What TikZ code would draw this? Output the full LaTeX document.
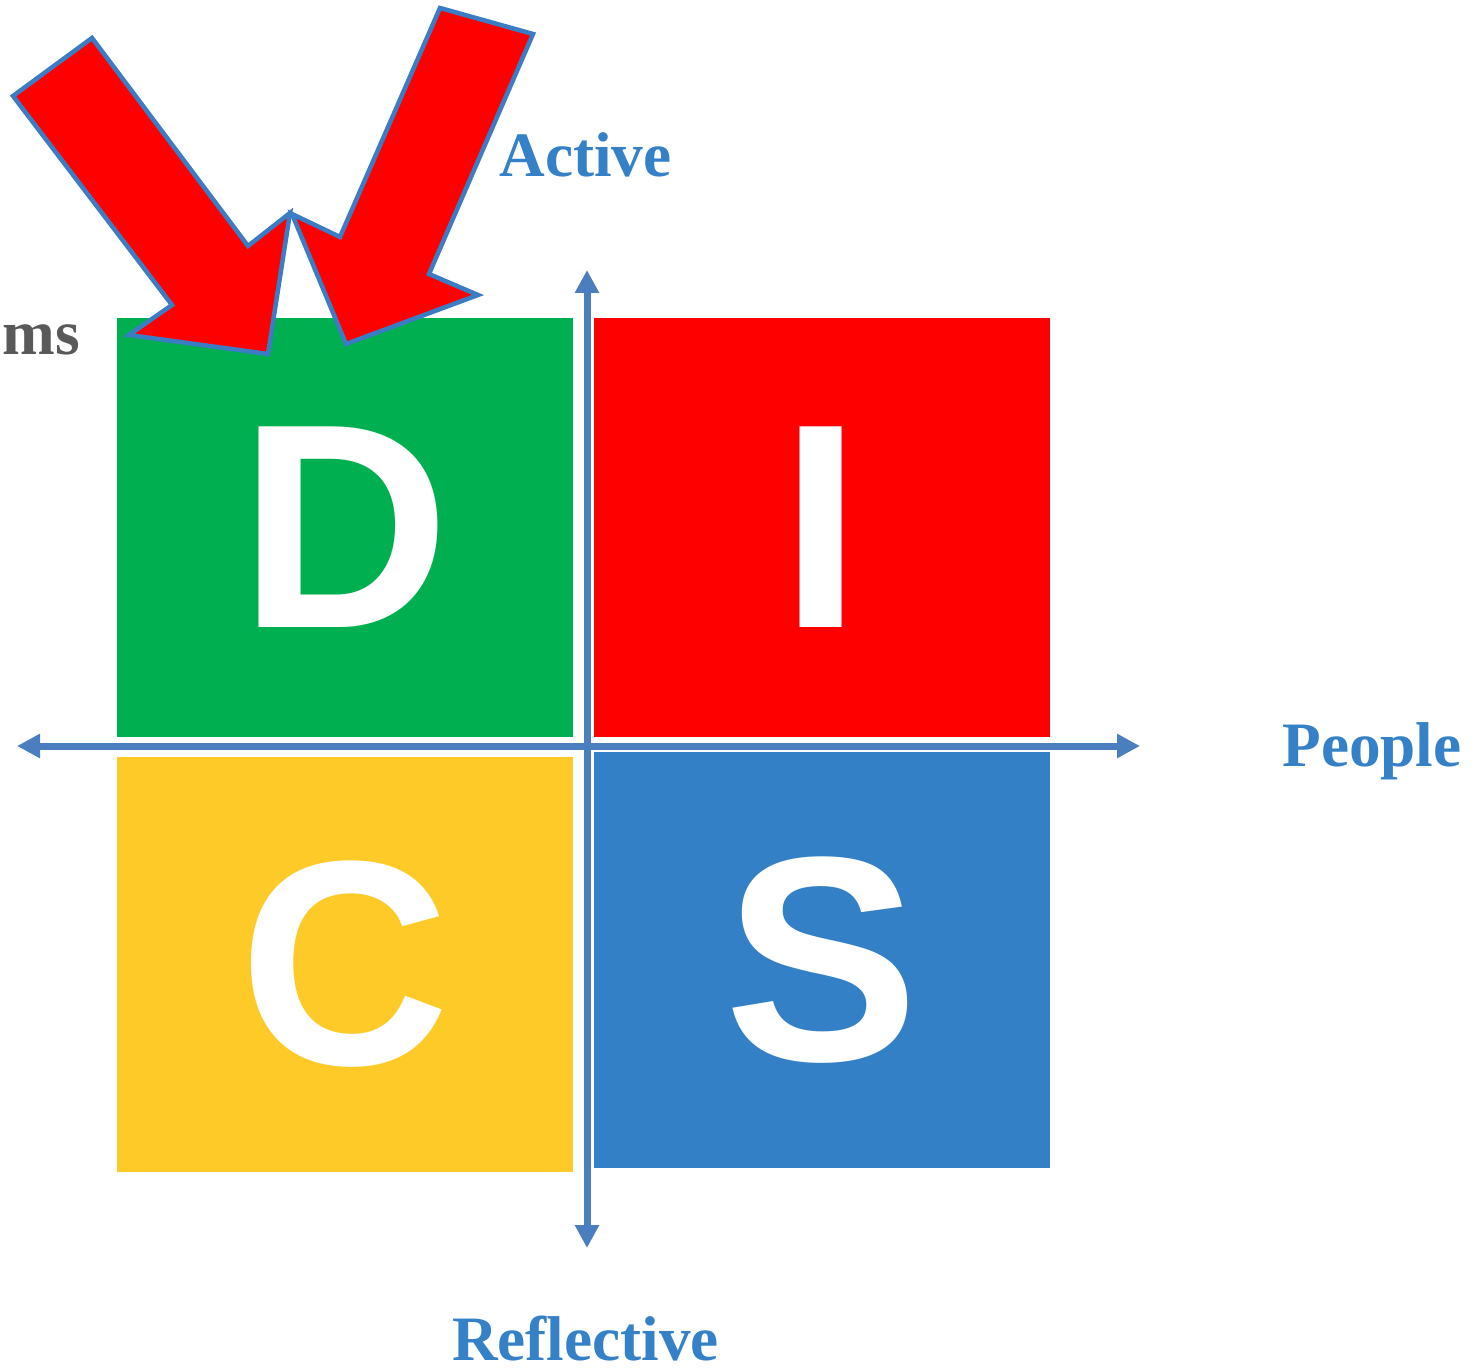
\documentclass[tikz,border=0pt]{standalone}
\usepackage{fontspec}
\setmainfont{Liberation Serif}
\newfontfamily\discfont{Liberation Sans}
\usetikzlibrary{arrows.meta}

\definecolor{dgreen}{RGB}{0,176,80}
\definecolor{dred}{RGB}{255,0,0}
\definecolor{dyellow}{RGB}{254,202,39}
\definecolor{dblue}{RGB}{52,128,198}
\definecolor{axisblue}{RGB}{74,126,191}
\definecolor{labelblue}{RGB}{52,129,199}
\definecolor{outlineblue}{RGB}{58,125,196}
\definecolor{msgrey}{RGB}{89,89,89}

\tikzset{
  quad/.style={inner sep=0pt, minimum width=4.56cm, text=white,
    font=\discfont\bfseries\fontsize{83}{83}\selectfont},
  axisline/.style={axisblue, line width=0.07cm,
    {Triangle[length=0.23cm,width=0.23cm]}-{Triangle[length=0.23cm,width=0.23cm]}},
  axislabel/.style={labelblue, anchor=base, inner sep=0pt,
    font=\bfseries\fontsize{18}{18}\selectfont},
  pointer/.style={fill=dred, draw=outlineblue, line width=0.045cm}
}

\begin{document}
\begin{tikzpicture}[x=1cm, y=-1cm]
  \useasboundingbox (0,0) rectangle (14.84,13.69);

  % the four quadrants
  \node[quad, fill=dgreen, minimum height=4.19cm] (D) at (3.45,5.275) {D};
  \node[quad, fill=dred, minimum height=4.19cm] (I) at (8.215,5.275) {I};
  \node[quad, fill=dyellow, minimum height=4.15cm] (C) at (3.45,9.645) {C};
  \node[quad, fill=dblue, minimum height=4.16cm] (S) at (8.215,9.60) {S};

  % axes
  \coordinate (xmin) at (0.17,7.46);
  \coordinate (xmax) at (11.40,7.46);
  \coordinate (ymin) at (5.87,12.48);
  \coordinate (ymax) at (5.87,2.70);
  \draw[axisline] (xmin) -- (xmax);
  \draw[axisline] (ymax) -- (ymin);

  \node[axislabel] (active) at (5.855,1.77) {Active};
  \node[axislabel] (people) at (13.72,7.66) {People};
  \node[axislabel, text depth=0pt] (reflective) at (5.855,13.60) {Reflective};
  \node[axislabel, text=msgrey] (ms) at (0.415,3.55) {ms};

  % red pointers
  \draw[pointer] (0.13,0.96) -- (0.92,0.38) -- (2.48,2.46) -- (2.90,2.13)
    -- (2.68,3.54) -- (1.29,3.35) -- (1.72,3.05) -- cycle;
  \draw[pointer] (4.40,0.08) -- (5.33,0.34) -- (4.29,2.74) -- (4.78,2.95)
    -- (3.46,3.44) -- (2.92,2.14) -- (3.40,2.37) -- cycle;
\end{tikzpicture}
\end{document}
